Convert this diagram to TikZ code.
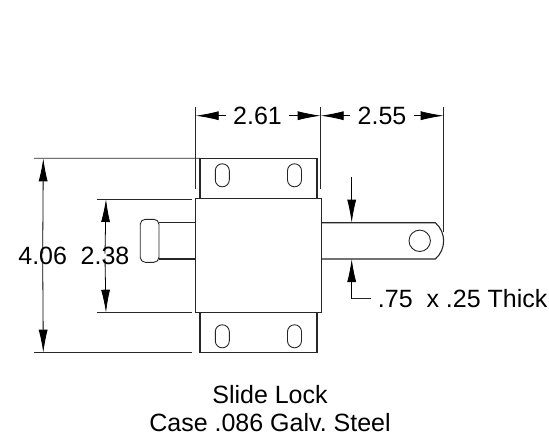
\documentclass[tikz,border=0pt]{standalone}
\usepackage{fontspec}
\setmainfont{Liberation Sans}
\usetikzlibrary{arrows.meta}
\frenchspacing
\tikzset{font={\fontsize{25pt}{28.75pt}\selectfont}}
\tikzset{part/.style={draw=black!85,line width=1.1pt,fill=none,inner sep=0pt,outer sep=0pt}}
\tikzset{extline/.style={draw=black!85,line width=0.8pt}}
\tikzset{dimarrow/.style={draw=black,line width=0.8pt,-{Latex[length=23pt,width=9pt]}}}
\tikzset{slot/.style={part,line width=0.9pt,rounded corners=6.9pt,minimum width=14pt,minimum height=23pt}}
\tikzset{dimlabel/.style={inner sep=0pt,text height=17.5pt,text depth=0pt}}

\begin{document}
\begin{tikzpicture}[x=1pt,y=-1pt]
        \useasboundingbox (0,0) rectangle (549,439);
        % case and flanges
        \node[part,minimum width=117pt,minimum height=40.5pt] (flangetop) at (258.5,178.5) {};
        \node[part,minimum width=117pt,minimum height=40pt] (flangebot) at (258.5,332.7) {};
        \node[part,minimum width=126pt,minimum height=114pt] (body) at (258.3,255.9) {};
        \foreach \x\y\n in {222.3/175.3/a, 294.5/175.3/b, 222.3/336.3/c, 294.5/336.3/d}{
            \node[slot] (slot\n) at (\x,\y) {};
        }
        % bar
        \coordinate (barA) at (321.3,222.7);
        \coordinate (barB) at (435.3,222.7);
        \coordinate (barC) at (435.3,259);
        \coordinate (barD) at (321.3,259);
        \draw[part] (barA) -- (barB) .. controls (446.4,232.3) and (446.4,249.4) .. (barC) -- (barD);
        \node[part,circle,minimum size=21.4pt,line width=0.9pt] (hole) at (419.7,240.8) {};
        \node[part,line width=0.9pt,rounded corners=5pt,minimum width=18.7pt,minimum height=43pt] (handle) at (149.6,240.8) {};
        \draw[part] (handle.north east |- barA) -- (body.west |- barA);
        \draw[part] (handle.north east |- barD) -- (body.west |- barD);
        % top dimensions
        \coordinate (xa) at (195.7,115.7);
        \coordinate (xb) at (320.7,115.7);
        \coordinate (xc) at (443.7,115.7);
        \path[extline] (195.7,107) -- (195.7,189.3);
        \path[extline] (320.7,107) -- (320.7,189.3);
        \path[extline] (443.7,107) -- (443.7,231.7);
        \node[dimlabel] (top261) at (257.5,115.7) {2.61};
        \node[dimlabel] (top255) at (382,115.7) {2.55};
        \foreach \i\j\k in {top261/xa/xb, top255/xb/xc}{
            \path[dimarrow] ([xshift=-7pt]\i.west) -- (\j);
            \path[dimarrow] ([xshift=7pt]\i.east) -- (\k);
        }
        % side dimensions
        \coordinate (ya) at (43.3,158.3);
        \coordinate (yb) at (43.3,352.7);
        \coordinate (yc) at (106,199);
        \coordinate (yd) at (106,312.7);
        \path[extline] (34,158.3) -- (flangetop.north west);
        \path[extline] (34,352.7) -- (191.7,352.7);
        \path[extline] (96.7,199) -- (191.7,199);
        \path[extline] (96.7,312.7) -- (191.7,312.7);
        \node[dimlabel] (side406) at (42.7,256) {4.06};
        \node[dimlabel] (side238) at (105,256) {2.38};
        \foreach \i\j\k in {side406/ya/yb, side238/yc/yd}{
            \path[dimarrow] ([yshift=-6.5pt]\i.north) -- (\j);
            \path[dimarrow] ([yshift=6.5pt]\i.south) -- (\k);
        }
        % thickness
        \coordinate (ta) at (351.7,177.3);
        \coordinate (tb) at (351.7,222.7);
        \coordinate (tc) at (351.7,259);
        \coordinate (td) at (351.7,298.3);
        \node[anchor=west,inner sep=0pt] (thick) at (377.7,298.7) {.75\ \ x .25 Thick};
        \path[dimarrow] (thick.west -| td) -- (tc);
        \path[dimarrow] (ta) -- (tb);
        \path[extline] (td |- thick.west) -- ([xshift=-7pt]thick.west);
        % caption
        \node[align=center,inner sep=0pt] (caption) at (270,408.6) {Slide Lock\\Case .086 Galv. Steel};
    \end{tikzpicture}
\end{document}
